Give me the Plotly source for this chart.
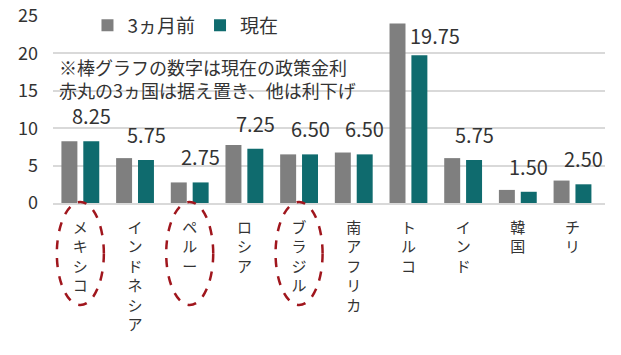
import plotly.graph_objects as go

categories = ["メキシコ", "インドネシア", "ペルー", "ロシア", "ブラジル",
              "南アフリカ", "トルコ", "インド", "韓国", "チリ"]
rate_3m_ago = [8.25, 6.00, 2.75, 7.75, 6.50, 6.75, 24.00, 6.00, 1.75, 3.00]
rate_now = [8.25, 5.75, 2.75, 7.25, 6.50, 6.50, 19.75, 5.75, 1.50, 2.50]
series_names = ["3ヵ月前", "現在"]
held_countries = ["メキシコ", "ペルー", "ブラジル"]
note_lines = ["※棒グラフの数字は現在の政策金利", "赤丸の3ヵ国は据え置き、他は利下げ"]
y_ticks = [0, 5, 10, 15, 20, 25]

FONT = "Noto Sans CJK JP"
TXT = "#333333"
GRAY = "#7f7f7f"
TEAL = "#0f6b6e"
RED = "#a0161d"

fig = go.Figure()
fig.add_trace(go.Bar(x=categories, y=rate_3m_ago, name=series_names[0],
                     marker=dict(color=GRAY, line=dict(width=0))))
fig.add_trace(go.Bar(x=categories, y=rate_now, name=series_names[1],
                     marker=dict(color=TEAL, line=dict(width=0))))

annotations = []
# value labels above the current-rate bars
for c, v in zip(categories, rate_now):
    xs, ys = 11, 9
    if v > 15:  # tall bar: label pushed right of the taller grey bar
        xs, ys = 27, 3
    annotations.append(dict(x=c, y=v, xref="x", yref="y", text=f"{v:.2f}",
                            showarrow=False, xanchor="center", yanchor="bottom",
                            xshift=xs, yshift=ys,
                            font=dict(family=FONT, size=20, color=TXT)))

# note text
annotations.append(dict(x=0.008, y=0.81, xref="paper", yref="paper",
                        text="<br>".join(note_lines), showarrow=False,
                        xanchor="left", yanchor="top", align="left",
                        font=dict(family=FONT, size=18, color=TXT)))

shapes = []
for c in held_countries:
    i = categories.index(c)
    shapes.append(dict(type="circle", xref="x", yref="paper",
                       x0=i - 0.43, x1=i + 0.43,
                       ysizemode="pixel", yanchor=0, y0=1, y1=-102,
                       line=dict(color=RED, width=2.5, dash="dash")))

# vertical (tategaki) category labels: one character per line
vertical_text = ["<br>".join(list(c)) for c in categories]

fig.update_layout(
    width=621, height=355,
    margin=dict(l=53, r=16, t=16, b=152, autoexpand=False),
    paper_bgcolor="white", plot_bgcolor="white",
    barmode="group", bargap=0.2, bargroupgap=0.27,
    font=dict(family=FONT, size=18, color=TXT),
    showlegend=True,
    legend=dict(orientation="h", x=0.24, xanchor="center", y=0.95, yanchor="middle",
                font=dict(family=FONT, size=19, color=TXT),
                bgcolor="rgba(0,0,0,0)"),
    annotations=annotations,
    shapes=shapes,
)
fig.update_xaxes(tickmode="array", tickvals=categories, ticktext=vertical_text,
                 tickangle=0, tickfont=dict(family=FONT, size=15, color=TXT),
                 ticklabelstandoff=10, automargin=False,
                 showline=True, linecolor="#d9d9d9",
                 linewidth=1.5, ticks="", showgrid=False)
fig.update_yaxes(range=[0, 25], tickvals=y_ticks, showgrid=True, automargin=False,
                 gridcolor="#d9d9d9", gridwidth=1.5, zeroline=False,
                 showline=False, ticks="", ticklabelstandoff=14,
                 ticklabeloverflow="allow",
                 tickfont=dict(family=FONT, size=18, color=TXT))

fig.write_html("out.html", config={"displayModeBar": False},
               post_script="document.body.style.margin='0';")
